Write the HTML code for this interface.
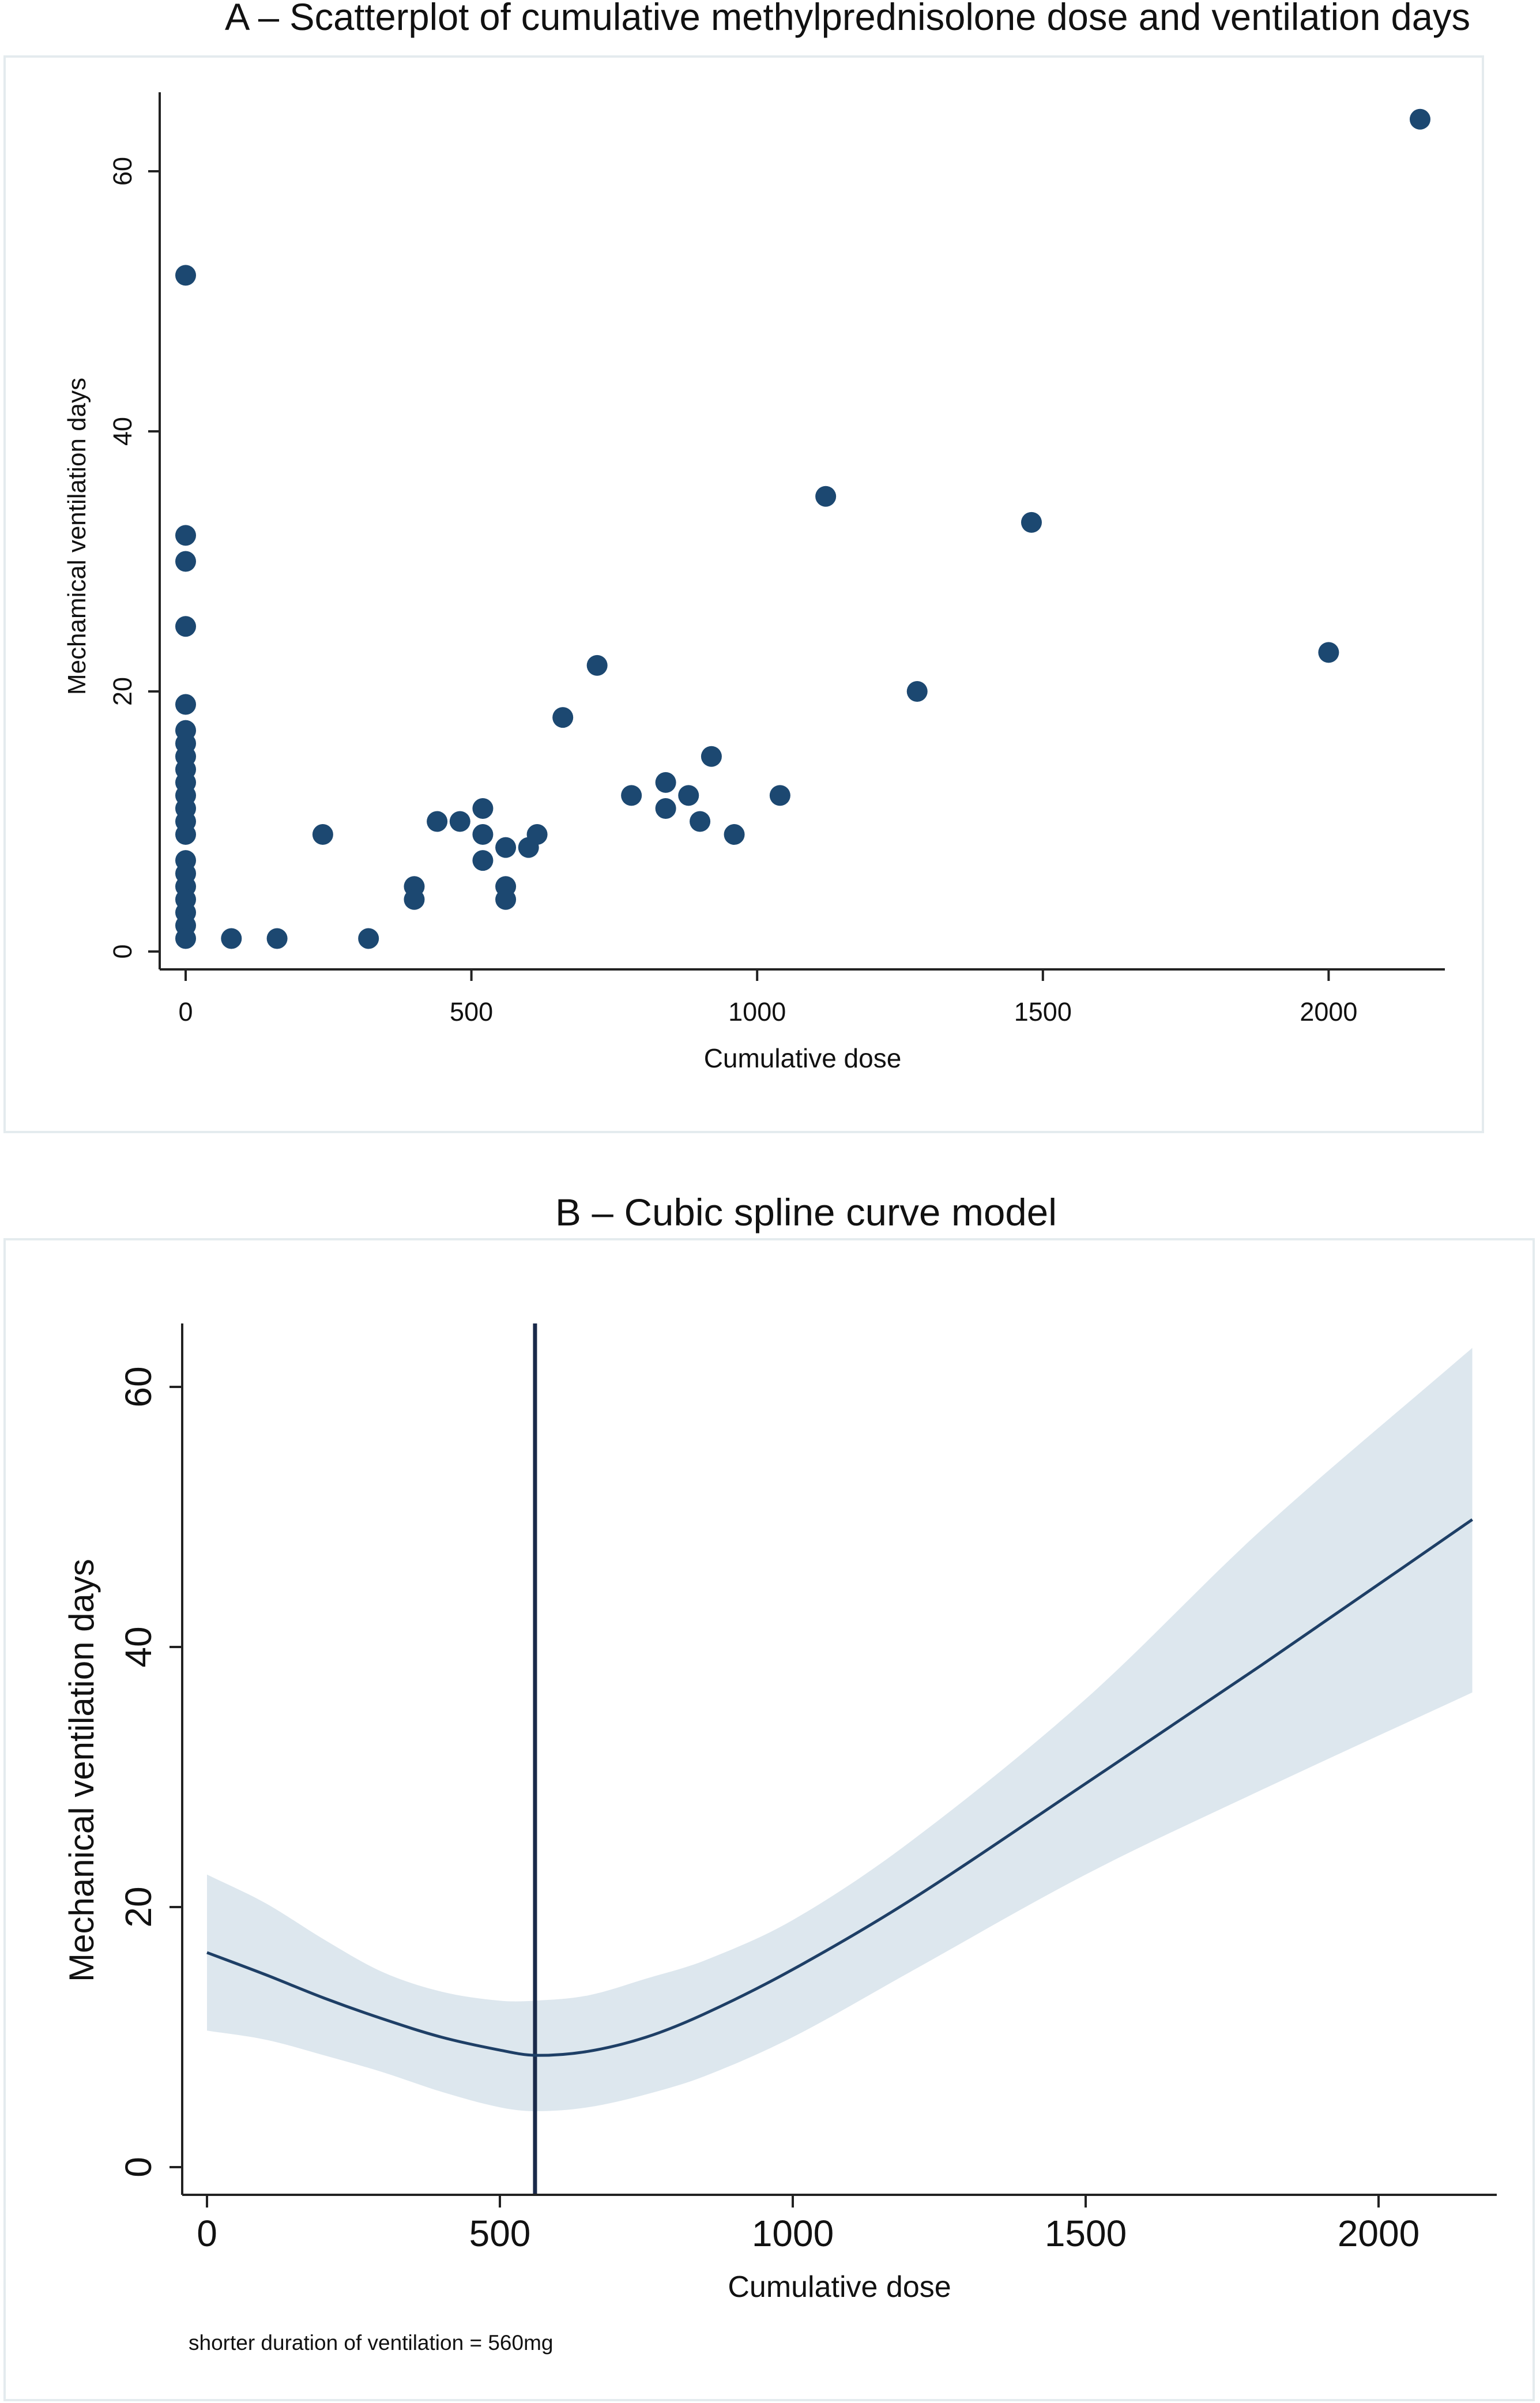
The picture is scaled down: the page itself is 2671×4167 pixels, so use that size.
<!DOCTYPE html>
<html><head><meta charset="utf-8">
<style>html,body{margin:0;padding:0;background:#fff}svg{display:block}text{font-family:"Liberation Sans",sans-serif;fill:#111}</style>
</head><body>
<svg id="fig" width="2671" height="4167" viewBox="0 0 2671 4167" xmlns="http://www.w3.org/2000/svg">
<rect x="0" y="0" width="2671" height="4167" fill="#fff"/>
<text x="1470" y="52" text-anchor="middle" font-size="66" textLength="2160" lengthAdjust="spacingAndGlyphs">A – Scatterplot of cumulative methylprednisolone dose and ventilation days</text>
<rect x="8" y="98" width="2564" height="1865" fill="none" stroke="#e4ebee" stroke-width="4"/>
<g id="gA"></g>
<text x="1398" y="2125" text-anchor="middle" font-size="66" textLength="870" lengthAdjust="spacingAndGlyphs">B – Cubic spline curve model</text>
<rect x="8" y="2149" width="2652" height="2013" fill="none" stroke="#e4ebee" stroke-width="4"/>
<g id="gB"></g>
</svg>
<script>
// Panel A data
const aDose = [0,0,0,0,0,0,0,0,0,0,0,0,0,0,0,0,0,0,0,0,0,80,160,240,320,400,400,440,480,520,520,520,560,560,560,600,615,660,720,780,840,840,880,900,920,960,1040,1120,1280,1480,2000,2160];
const aDays = [52,32,30,25,19,17,16,15,14,13,12,11,10,9,7,6,5,4,3,2,1,1,1,9,1,5,4,10,10,11,9,7,8,5,4,8,9,18,22,12,13,11,12,10,15,9,12,35,20,33,23,64];
const xTicks = [0,500,1000,1500,2000];
const yTicks = [0,20,40,60];
// Panel B data
const bDose = [0,100,200,300,400,500,560,650,750,850,1000,1200,1500,1800,2160];
const bFit  = [16.5,14.8,13,11.4,10,9,8.6,8.9,10,11.8,15.2,20.5,29.5,38.6,49.8];
const bUpper= [22.5,20.3,17.5,15,13.5,12.8,12.8,13.2,14.5,15.9,19,25,36,49,63];
const bLower= [10.5,9.8,8.6,7.3,5.8,4.6,4.3,4.6,5.6,7,10,15,22.5,29,36.5];
const optimalDose = [560];

const NS="http://www.w3.org/2000/svg";
function mk(parent,tag,attrs,txt){const e=document.createElementNS(NS,tag);for(const k in attrs)e.setAttribute(k,attrs[k]);if(txt!==undefined)e.textContent=txt;parent.appendChild(e);return e;}

// ---- Panel A
const gA=document.getElementById('gA');
const axA={x0:322,xs:495.6/500,y0:1650,ys:451/20};
const xA=v=>axA.x0+v*axA.xs, yA=v=>axA.y0-v*axA.ys;
let l=mk(gA,'line',{x1:277,y1:160,x2:277,y2:1681,stroke:'#222','stroke-width':4});


l=mk(gA,'line',{x1:277,y1:1681,x2:2506,y2:1681,stroke:'#222','stroke-width':4});


xTicks.forEach(t=>{
  mk(gA,'line',{x1:xA(t),y1:1681,x2:xA(t),y2:1701,stroke:'#222','stroke-width':4});
  const e=mk(gA,'text',{x:xA(t),y:1770,'text-anchor':'middle','font-size':45},String(t));
  
  
});
yTicks.forEach(t=>{
  mk(gA,'line',{x1:257,y1:yA(t),x2:277,y2:yA(t),stroke:'#222','stroke-width':4});
  const e=mk(gA,'text',{x:0,y:0,'text-anchor':'middle','font-size':45,transform:`translate(228,${yA(t)}) rotate(-90)`},String(t));
  
  
});
let t=mk(gA,'text',{x:1392,y:1851,'text-anchor':'middle','font-size':46},'Cumulative dose');


t=mk(gA,'text',{x:0,y:0,'text-anchor':'middle','font-size':44,transform:'translate(148,930) rotate(-90)'},'Mechamical ventilation days');


aDose.forEach((d,i)=>{
  const c=mk(gA,'circle',{cx:xA(d),cy:yA(aDays[i]),r:18,fill:'#1c4871'});
  
  
});

// ---- Panel B
const gB=document.getElementById('gB');
const axB={x0:359,xs:508/500,y0:3758,ys:451/20};
const xB=v=>axB.x0+v*axB.xs, yB=v=>axB.y0-v*axB.ys;
// Hermite spline in data space, tangents from neighbouring secants (handles uneven spacing)
function smooth(xs,ys,move){
  const n=xs.length, m=[];
  for(let i=0;i<n;i++){
    if(i===0) m.push((ys[1]-ys[0])/(xs[1]-xs[0]));
    else if(i===n-1) m.push((ys[n-1]-ys[n-2])/(xs[n-1]-xs[n-2]));
    else m.push((ys[i+1]-ys[i-1])/(xs[i+1]-xs[i-1]));
  }
  let d=(move?'M':'L')+xB(xs[0])+','+yB(ys[0]);
  for(let i=0;i<n-1;i++){
    const h=(xs[i+1]-xs[i])/3;
    d+=` C${xB(xs[i]+h)},${yB(ys[i]+m[i]*h)} ${xB(xs[i+1]-h)},${yB(ys[i+1]-m[i+1]*h)} ${xB(xs[i+1])},${yB(ys[i+1])}`;
  }
  return d;
}
const up=smooth(bDose,bUpper,true);
const lo=smooth(bDose.slice().reverse(),bLower.slice().reverse(),false);
const band=mk(gB,'path',{d:up+' '+lo+' Z',fill:'#dde7ee'});


const vl=mk(gB,'line',{x1:xB(optimalDose[0]),y1:2295,x2:xB(optimalDose[0]),y2:3806,stroke:'#1a2a4a','stroke-width':7});


const fit=mk(gB,'path',{d:smooth(bDose,bFit,true),fill:'none',stroke:'#1e3f66','stroke-width':5});


l=mk(gB,'line',{x1:316,y1:2295,x2:316,y2:3806,stroke:'#222','stroke-width':4});


l=mk(gB,'line',{x1:316,y1:3806,x2:2596,y2:3806,stroke:'#222','stroke-width':4});


xTicks.forEach(v=>{
  mk(gB,'line',{x1:xB(v),y1:3806,x2:xB(v),y2:3828,stroke:'#222','stroke-width':4});
  const e=mk(gB,'text',{x:xB(v),y:3895,'text-anchor':'middle','font-size':64},String(v));
  
  
});
yTicks.forEach(v=>{
  mk(gB,'line',{x1:294,y1:yB(v),x2:316,y2:yB(v),stroke:'#222','stroke-width':4});
  const e=mk(gB,'text',{x:0,y:0,'text-anchor':'middle','font-size':64,transform:`translate(262,${yB(v)}) rotate(-90)`},String(v));
  
  
});
t=mk(gB,'text',{x:1456,y:3983,'text-anchor':'middle','font-size':52},'Cumulative dose');


t=mk(gB,'text',{x:0,y:0,'text-anchor':'middle','font-size':60,transform:'translate(162,3070) rotate(-90)'},'Mechanical ventilation days');


t=mk(gB,'text',{x:327,y:4075,'font-size':37},'shorter duration of ventilation = 560mg');


</script>
</body></html>
